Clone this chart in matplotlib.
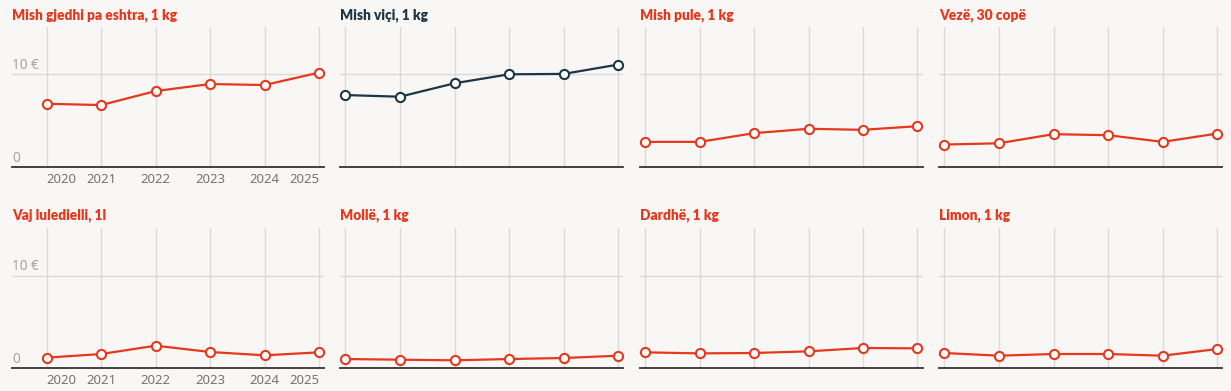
import matplotlib
matplotlib.use("Agg")
import matplotlib.pyplot as plt
import matplotlib.transforms as mtransforms

W, H = 1231, 391
DPI = 100

years = [2020, 2021, 2022, 2023, 2024, 2025]
year_labels = ["2020", "2021", "2022", "2023", "2024", "2025"]

titles = [
    "Mish gjedhi pa eshtra, 1 kg", "Mish viçi, 1 kg", "Mish pule, 1 kg", "Vezë, 30 copë",
    "Vaj luledielli, 1l", "Mollë, 1 kg", "Dardhë, 1 kg", "Limon, 1 kg",
]
mish_gjedhi = [6.82, 6.68, 8.19, 8.95, 8.84, 10.18]
mish_vici = [7.76, 7.58, 9.03, 10.0, 10.04, 11.05]
mish_pule = [2.71, 2.71, 3.65, 4.12, 4.01, 4.40]
veze = [2.42, 2.56, 3.54, 3.43, 2.71, 3.61]
vaj = [1.15, 1.54, 2.44, 1.76, 1.40, 1.72]
molle = [1.0, 0.93, 0.86, 1.0, 1.11, 1.36]
dardhe = [1.72, 1.61, 1.65, 1.83, 2.19, 2.15]
limon = [1.65, 1.36, 1.54, 1.54, 1.36, 2.08]
series = [mish_gjedhi, mish_vici, mish_pule, veze, vaj, molle, dardhe, limon]
highlight = [False, True, False, False, False, False, False, False]

BG = "#f8f7f5"
RED = "#e5381d"
NAVY = "#1d3646"
GRID = "#dcdad7"
BASE = "#333333"
YLAB = "#a4a4a4"
XLAB = "#747474"
FONT = ["Noto Sans", "DejaVu Sans"]
TFONT = ["Lato", "DejaVu Sans"]

plt.rcParams["font.family"] = FONT

fig = plt.figure(figsize=(W / DPI, H / DPI), dpi=DPI, facecolor=BG)

# pixel geometry: (axes left, axes right, x of first year, x of last year)
cols = [(12, 324, 46.7, 319), (340, 623.3, 345.3, 618.3),
        (640, 922.7, 645.3, 917.3), (939.3, 1222.3, 944.3, 1217.3)]
rows = [(27, 167), (228.3, 368.3)]  # (top, bottom) in px
ymax = 15.1

for i, (title, vals) in enumerate(zip(titles, series)):
    r, c = divmod(i, 4)
    left, right, x0, x1 = cols[c]
    top, bottom = rows[r]
    ax = fig.add_axes([left / W, (H - bottom) / H, (right - left) / W, (bottom - top) / H])
    ax.set_facecolor("none")
    s = (x1 - x0) / (years[-1] - years[0])
    ax.set_xlim(years[0] - (x0 - left) / s, years[-1] + (right - x1) / s)
    ax.set_ylim(0, ymax)
    for sp in ax.spines.values():
        sp.set_visible(False)
    ax.set_yticks([])
    for yr in years:
        ax.axvline(yr, color=GRID, lw=1.0, zorder=1)
    ax.axhline(10, color=GRID, lw=1.0, zorder=1)
    ax.axhline(0, color=BASE, lw=1.3, zorder=2, clip_on=False)
    col = NAVY if highlight[i] else RED
    ax.plot(years, vals, color=col, lw=1.6, marker="o", ms=6.6, mfc="white",
            mec=col, mew=1.5, zorder=3, clip_on=False)
    ax.set_xticks(years)
    if c == 0:
        ax.set_xticklabels(year_labels, fontsize=9.5, color=XLAB)
        lbls = ax.get_xticklabels()
        lbls[0].set_ha("left")
        lbls[-1].set_ha("right")
        ax.tick_params(axis="x", length=0, pad=4)
        tr = mtransforms.blended_transform_factory(ax.transAxes, ax.transData)
        off = mtransforms.offset_copy(tr, fig=fig, x=0, y=0.9, units="points")
        ax.text(0, 10, "10 €", transform=off, ha="left", va="bottom", fontsize=9.8,
                color=YLAB, zorder=4)
        ax.text(0, 0, "0", transform=off, ha="left", va="bottom", fontsize=9.8,
                color=YLAB, zorder=4)
    else:
        ax.set_xticklabels([])
        ax.tick_params(axis="x", length=0)
    ty = 15 if r == 0 else 215
    fig.text(left / W, 1 - ty / H, title, ha="left", va="center", fontsize=9.9,
             fontweight="heavy", color=col, family=TFONT)

fig.savefig("out.png", dpi=DPI, facecolor=BG)
